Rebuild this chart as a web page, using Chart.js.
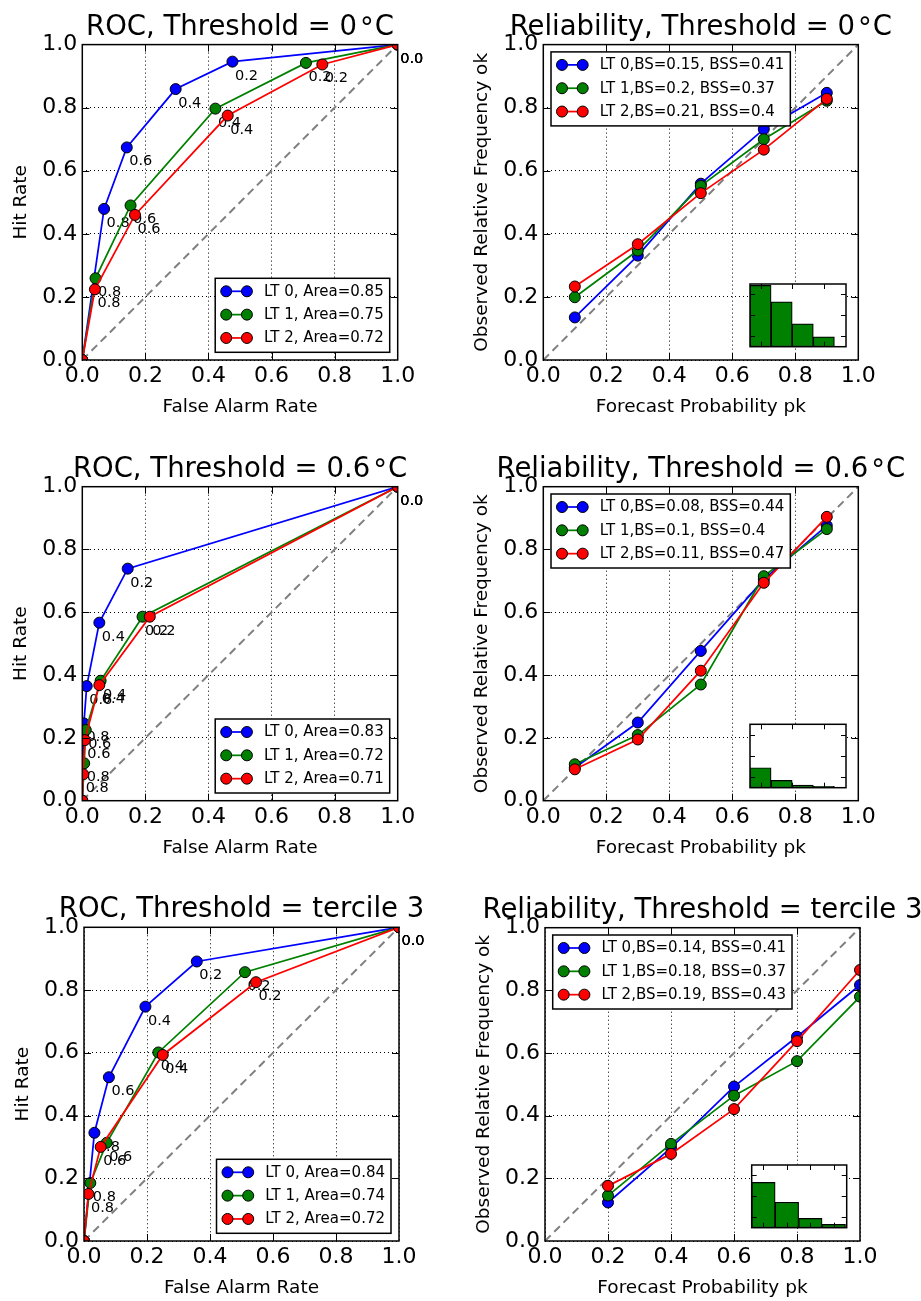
<!DOCTYPE html>
<html><head><meta charset="utf-8">
<script src="https://cdn.jsdelivr.net/npm/chart.js@4.4.1/dist/chart.umd.min.js"></script>
<style>
html,body{margin:0;padding:0;background:#fff;}
body{width:921px;height:1301px;position:relative;overflow:hidden;}
canvas{position:absolute;}
</style></head><body>
<canvas id="c1"></canvas><canvas id="c2"></canvas><canvas id="c3"></canvas>
<canvas id="c4"></canvas><canvas id="c5"></canvas><canvas id="c6"></canvas>
<canvas id="h2"></canvas><canvas id="h4"></canvas><canvas id="h6"></canvas>
<script>
// ---------------- data ----------------
const diagX = [0, 1];
const diagY = [0, 1];
const axisTicks = [0, 0.2, 0.4, 0.6, 0.8, 1.0];
const rocMarks = ['', '0.8', '0.6', '0.4', '0.2', '0.0'];
const ltNames = ['LT 0', 'LT 1', 'LT 2'];

// ROC, threshold 0°C
const rocA_far = [[0,0.069,0.141,0.296,0.476,1],[0,0.042,0.153,0.422,0.709,1],[0,0.040,0.167,0.461,0.761,1]];
const rocA_hit = [[0,0.479,0.674,0.859,0.946,1],[0,0.259,0.490,0.797,0.942,1],[0,0.224,0.460,0.775,0.937,1]];
const rocA_area = [0.85, 0.75, 0.72];
// ROC, threshold 0.6°C
const rocB_far = [[0,0.005,0.014,0.054,0.144,1],[0,0.006,0.011,0.058,0.191,1],[0,0.003,0.008,0.054,0.214,1]];
const rocB_hit = [[0,0.246,0.365,0.567,0.739,1],[0,0.119,0.225,0.382,0.586,1],[0,0.084,0.193,0.368,0.586,1]];
const rocB_area = [0.83, 0.72, 0.71];
// ROC, threshold tercile 3
const rocC_far = [[0,0.033,0.079,0.195,0.358,1],[0,0.020,0.072,0.236,0.511,1],[0,0.014,0.053,0.250,0.546,1]];
const rocC_hit = [[0,0.345,0.522,0.747,0.891,1],[0,0.185,0.313,0.601,0.857,1],[0,0.150,0.300,0.593,0.825,1]];
const rocC_area = [0.84, 0.74, 0.72];

// Reliability, threshold 0°C
const relA_pk = [0.1, 0.3, 0.5, 0.7, 0.9];
const relA_ok = [[0.135,0.331,0.559,0.732,0.847],[0.199,0.347,0.552,0.700,0.822],[0.233,0.367,0.529,0.667,0.828]];
const relA_bs = [0.15, 0.2, 0.21];
const relA_bss = [0.41, 0.37, 0.4];
const relA_hist = [0.587, 0.429, 0.219, 0.095];
// Reliability, threshold 0.6°C
const relB_pk = [0.1, 0.3, 0.5, 0.7, 0.9];
const relB_ok = [[0.105,0.249,0.477,0.705,0.876],[0.116,0.209,0.370,0.715,0.865],[0.100,0.195,0.414,0.694,0.904]];
const relB_bs = [0.08, 0.1, 0.11];
const relB_bss = [0.44, 0.4, 0.47];
const relB_hist = [0.189, 0.069, 0.025, 0.013];
// Reliability, threshold tercile 3
const relC_pk = [0.2, 0.4, 0.6, 0.8, 1.0];
const relC_ok = [[0.123,0.297,0.493,0.652,0.817],[0.145,0.310,0.464,0.574,0.780],[0.176,0.278,0.421,0.638,0.865]];
const relC_bs = [0.14, 0.18, 0.19];
const relC_bss = [0.41, 0.37, 0.43];
const relC_hist = [0.434, 0.243, 0.089, 0.032];

const histBins = [0.1, 0.3, 0.5, 0.7];
const insetXTicks = [0.1,0.2,0.3,0.4,0.5,0.6,0.7,0.8,0.9];
const insetYTicks = [0.1,0.2,0.3,0.4,0.5];

// ---------------- style ----------------
const FONT = "'DejaVu Sans', sans-serif";
Chart.defaults.font.family = FONT;
const colors = ['#0000ff', '#008000', '#ff0000'];
const TFS = 27.5, TKFS = 22, AXFS = 18.5, LGFS = 15, ANFS = 14.5, TL = 7;

function drawTitle(ctx, text, cx, yb) {
  ctx.font = TFS + 'px ' + FONT;
  ctx.fillStyle = '#000';
  ctx.textBaseline = 'alphabetic';
  const i = text.indexOf('°');
  if (i < 0) { ctx.textAlign = 'center'; ctx.fillText(text, cx, yb); return; }
  const a = text.slice(0, i), b = text.slice(i + 1);
  const wa = ctx.measureText(a).width, wd = ctx.measureText('°').width, wb = ctx.measureText(b).width;
  const tot = wa + 3 + wd + 1 + wb;
  let x = cx - tot / 2;
  ctx.textAlign = 'left';
  ctx.fillText(a, x, yb); x += wa + 3;
  ctx.fillText('°', x, yb + 2); x += wd + 1;
  ctx.fillText(b, x, yb);
}

function mplPlugin(p) {
  return {
    id: 'mpl_' + p.id,
    afterDatasetDraw(chart, args) {
      if (!p.marks || args.index > 2) return;
      const ctx = chart.ctx;
      ctx.save();
      ctx.font = ANFS + 'px ' + FONT;
      ctx.fillStyle = '#000';
      ctx.textAlign = 'left';
      ctx.textBaseline = 'alphabetic';
      args.meta.data.forEach((pt, k) => { if (p.marks[k]) ctx.fillText(p.marks[k], pt.x + 2.5, pt.y + 18); });
      ctx.restore();
    },
    afterDatasetsDraw(chart) {
      const {ctx, chartArea: a, scales: {x, y}} = chart;
      ctx.save();
      ctx.strokeStyle = '#000';
      ctx.lineWidth = 1;
      ctx.beginPath();
      x.ticks.forEach(t => {
        const px = Math.round(x.getPixelForValue(t.value)) + 0.5;
        if (px - a.left < 2 || a.right - px < 2) return;
        ctx.moveTo(px, a.bottom); ctx.lineTo(px, a.bottom - TL);
        ctx.moveTo(px, a.top); ctx.lineTo(px, a.top + TL);
      });
      y.ticks.forEach(t => {
        const py = Math.round(y.getPixelForValue(t.value)) + 0.5;
        if (py - a.top < 2 || a.bottom - py < 2) return;
        ctx.moveTo(a.left, py); ctx.lineTo(a.left + TL, py);
        ctx.moveTo(a.right, py); ctx.lineTo(a.right - TL, py);
      });
      ctx.stroke();
      ctx.lineWidth = 1.5;
      ctx.strokeRect(a.left, a.top, a.right - a.left, a.bottom - a.top);
      ctx.restore();
    },
    afterDraw(chart) {
      const {ctx, chartArea: a} = chart;
      ctx.save();
      // legend
      const ds = chart.data.datasets.filter(d => d.label);
      ctx.font = LGFS + 'px ' + FONT;
      const tw = Math.max(...ds.map(d => ctx.measureText(d.label).width));
      const w = 48.7 + tw + 6, h = 74;
      let bx, by;
      if (p.legend === 'lr') { bx = a.right - 8 - w; by = a.bottom - 7.7 - h; }
      else { bx = a.left + 7.7; by = a.top + 7.3; }
      ctx.fillStyle = '#fff';
      ctx.fillRect(bx, by, w, h);
      ctx.lineWidth = 1.5;
      ctx.strokeStyle = '#000';
      ctx.strokeRect(bx, by, w, h);
      ds.forEach((d, i) => {
        const cy = by + 13 + 23.33 * i;
        ctx.strokeStyle = d.borderColor; ctx.lineWidth = 1.75;
        ctx.beginPath(); ctx.moveTo(bx + 11, cy); ctx.lineTo(bx + 31.7, cy); ctx.stroke();
        [bx + 11, bx + 31.7].forEach(mx => {
          ctx.beginPath(); ctx.arc(mx, cy, 5.5, 0, Math.PI * 2);
          ctx.fillStyle = d.borderColor; ctx.fill();
          ctx.lineWidth = 1; ctx.strokeStyle = '#000'; ctx.stroke();
        });
        ctx.fillStyle = '#000';
        ctx.textAlign = 'left'; ctx.textBaseline = 'middle';
        ctx.fillText(d.label, bx + 48.7, cy + 0.5);
      });
      drawTitle(ctx, p.title, (a.left + a.right) / 2, a.top - 10);
      ctx.restore();
    }
  };
}

function buildMain(p) {
  const cv = document.getElementById(p.id);
  const W = p.box.w, H = p.box.h;
  cv.width = W; cv.height = H;
  cv.style.left = p.box.x + 'px'; cv.style.top = p.box.y + 'px';
  const L = p.area.l - p.box.x, T = p.area.t - p.box.y, R = p.area.r - p.box.x, B = p.area.b - p.box.y;
  const lh = AXFS * 1.2;
  const padY = (L - 61.3) - lh / 2;
  const padX = H - lh / 2 - (B + 47.3);
  const datasets = p.xs.map((xs, i) => ({
    label: p.labels[i],
    data: xs.map((x, k) => ({x: x, y: p.ys[i][k]})),
    showLine: true, fill: false,
    borderColor: colors[i], backgroundColor: colors[i], borderWidth: 1.75,
    pointRadius: 5.5, pointHoverRadius: 5.5, pointBorderColor: '#000', pointBorderWidth: 1,
    pointBackgroundColor: colors[i],
    order: 3 - i
  }));
  datasets.push({
    data: diagX.map((x, k) => ({x: x, y: diagY[k]})),
    showLine: true, fill: false, borderColor: '#808080', borderWidth: 2, borderDash: [8, 5],
    pointRadius: 0, pointHoverRadius: 0, order: 10
  });
  const axisCfg = (title, pad, isY) => ({
    type: 'linear', min: 0, max: 1,
    afterBuildTicks: s => { s.ticks = axisTicks.map(v => ({value: v})); },
    ticks: { color: '#000', font: {family: FONT, size: TKFS}, padding: isY ? 5 : 3,
             callback: v => Number(v).toFixed(1), autoSkip: false, maxRotation: 0 },
    grid: { color: '#000', lineWidth: 1, drawTicks: false },
    border: { display: false, dash: [1, 3] },
    title: { display: true, text: title, color: '#000', font: {family: FONT, size: AXFS},
             padding: {top: pad, bottom: pad} },
    afterFit: s => { if (isY) s.width = L; else s.height = H - B; }
  });
  new Chart(cv, {
    type: 'scatter',
    data: {datasets},
    options: {
      responsive: false, animation: false, devicePixelRatio: 1, events: [],
      layout: { padding: { left: 0, top: T, right: W - R, bottom: 0 } },
      plugins: { legend: {display: false}, tooltip: {enabled: false} },
      scales: { x: axisCfg(p.xTitle, padX, false), y: axisCfg(p.yTitle, padY, true) }
    },
    plugins: [mplPlugin(p)]
  });
}

const insetPlugin = {
  id: 'insetFrame',
  beforeDatasetsDraw(chart) {
    const a = chart.chartArea, c = chart.ctx;
    c.save(); c.fillStyle = '#fff';
    c.fillRect(a.left, a.top, a.right - a.left, a.bottom - a.top);
    c.restore();
  },
  afterDatasetsDraw(chart) {
    const {ctx, chartArea: a, scales: {x, y}} = chart;
    const tl = 5;
    ctx.save();
    ctx.strokeStyle = '#000'; ctx.lineWidth = 1;
    ctx.beginPath();
    x.ticks.forEach(t => {
      const px = Math.round(x.getPixelForValue(t.value)) + 0.5;
      if (px - a.left < 3 || a.right - px < 3) return;
      ctx.moveTo(px, a.bottom); ctx.lineTo(px, a.bottom - tl);
      ctx.moveTo(px, a.top); ctx.lineTo(px, a.top + tl);
    });
    y.ticks.forEach(t => {
      const py = Math.round(y.getPixelForValue(t.value)) + 0.5;
      if (py - a.top < 3 || a.bottom - py < 3) return;
      ctx.moveTo(a.left, py); ctx.lineTo(a.left + tl, py);
      ctx.moveTo(a.right, py); ctx.lineTo(a.right - tl, py);
    });
    ctx.stroke();
    ctx.lineWidth = 1.5;
    ctx.strokeRect(a.left, a.top, a.right - a.left, a.bottom - a.top);
    ctx.restore();
  }
};

function buildInset(p) {
  const cv = document.getElementById(p.id);
  const cl = Math.floor(p.l) - 3, ct = Math.floor(p.t) - 3;
  const cw = Math.ceil(p.r) + 3 - cl, ch = Math.ceil(p.b) + 3 - ct;
  cv.width = cw; cv.height = ch;
  cv.style.left = cl + 'px'; cv.style.top = ct + 'px';
  new Chart(cv, {
    type: 'bar',
    data: { datasets: [{
      data: histBins.map((x, k) => ({x: x, y: p.hist[k]})),
      backgroundColor: '#008000', borderColor: '#000', borderWidth: 1.2, borderSkipped: false,
      barPercentage: 1, categoryPercentage: 1, barThickness: 'flex'
    }]},
    options: {
      responsive: false, animation: false, devicePixelRatio: 1, events: [],
      layout: { padding: { left: p.l - cl, top: p.t - ct, right: cl + cw - p.r, bottom: ct + ch - p.b } },
      plugins: { legend: {display: false}, tooltip: {enabled: false} },
      scales: {
        x: { type: 'linear', display: false, offset: false, min: 0, max: p.xmax,
             afterBuildTicks: s => { s.ticks = insetXTicks.filter(v => v < p.xmax).map(v => ({value: v})); } },
        y: { type: 'linear', display: false, min: 0, max: 0.6,
             afterBuildTicks: s => { s.ticks = insetYTicks.map(v => ({value: v})); } }
      }
    },
    plugins: [insetPlugin]
  });
}

const rocLabels = areas => areas.map((a, i) => ltNames[i] + ', Area=' + a);
const relLabels = (bs, bss) => bs.map((b, i) => ltNames[i] + ',BS=' + b + ', BSS=' + bss[i]);
const repeat3 = arr => [arr, arr, arr];

const panels = [
  { id: 'c1', box: {x: 0, y: 0, w: 460, h: 430}, area: {l: 82.3, t: 44.6, r: 397.7, b: 360},
    title: 'ROC, Threshold = 0°C', xTitle: 'False Alarm Rate', yTitle: 'Hit Rate',
    xs: rocA_far, ys: rocA_hit, labels: rocLabels(rocA_area), marks: rocMarks, legend: 'lr' },
  { id: 'c2', box: {x: 460, y: 0, w: 461, h: 430}, area: {l: 543.3, t: 44.6, r: 858.3, b: 360},
    title: 'Reliability, Threshold = 0°C', xTitle: 'Forecast Probability pk', yTitle: 'Observed Relative Frequency ok',
    xs: repeat3(relA_pk), ys: relA_ok, labels: relLabels(relA_bs, relA_bss), marks: null, legend: 'ul' },
  { id: 'c3', box: {x: 0, y: 430, w: 460, h: 430}, area: {l: 82.3, t: 486.7, r: 397.7, b: 800.7},
    title: 'ROC, Threshold = 0.6°C', xTitle: 'False Alarm Rate', yTitle: 'Hit Rate',
    xs: rocB_far, ys: rocB_hit, labels: rocLabels(rocB_area), marks: rocMarks, legend: 'lr' },
  { id: 'c4', box: {x: 460, y: 430, w: 461, h: 430}, area: {l: 543.3, t: 486.7, r: 858.3, b: 800.7},
    title: 'Reliability, Threshold = 0.6°C', xTitle: 'Forecast Probability pk', yTitle: 'Observed Relative Frequency ok',
    xs: repeat3(relB_pk), ys: relB_ok, labels: relLabels(relB_bs, relB_bss), marks: null, legend: 'ul' },
  { id: 'c5', box: {x: 0, y: 860, w: 460, h: 441}, area: {l: 84, t: 927.3, r: 399, b: 1241},
    title: 'ROC, Threshold = tercile 3', xTitle: 'False Alarm Rate', yTitle: 'Hit Rate',
    xs: rocC_far, ys: rocC_hit, labels: rocLabels(rocC_area), marks: rocMarks, legend: 'lr' },
  { id: 'c6', box: {x: 460, y: 860, w: 461, h: 441}, area: {l: 545, t: 927.7, r: 860, b: 1241},
    title: 'Reliability, Threshold = tercile 3', xTitle: 'Forecast Probability pk', yTitle: 'Observed Relative Frequency ok',
    xs: repeat3(relC_pk), ys: relC_ok, labels: relLabels(relC_bs, relC_bss), marks: null, legend: 'ul' }
];
panels.forEach(buildMain);

const insets = [
  { id: 'h2', l: 750, t: 284, r: 846, b: 346.7, hist: relA_hist, xmax: 0.91 },
  { id: 'h4', l: 750, t: 724.3, r: 846, b: 787.7, hist: relB_hist, xmax: 0.91 },
  { id: 'h6', l: 751.7, t: 1165, r: 846.7, b: 1227.7, hist: relC_hist, xmax: 0.81 }
];
insets.forEach(buildInset);
</script>
</body></html>
